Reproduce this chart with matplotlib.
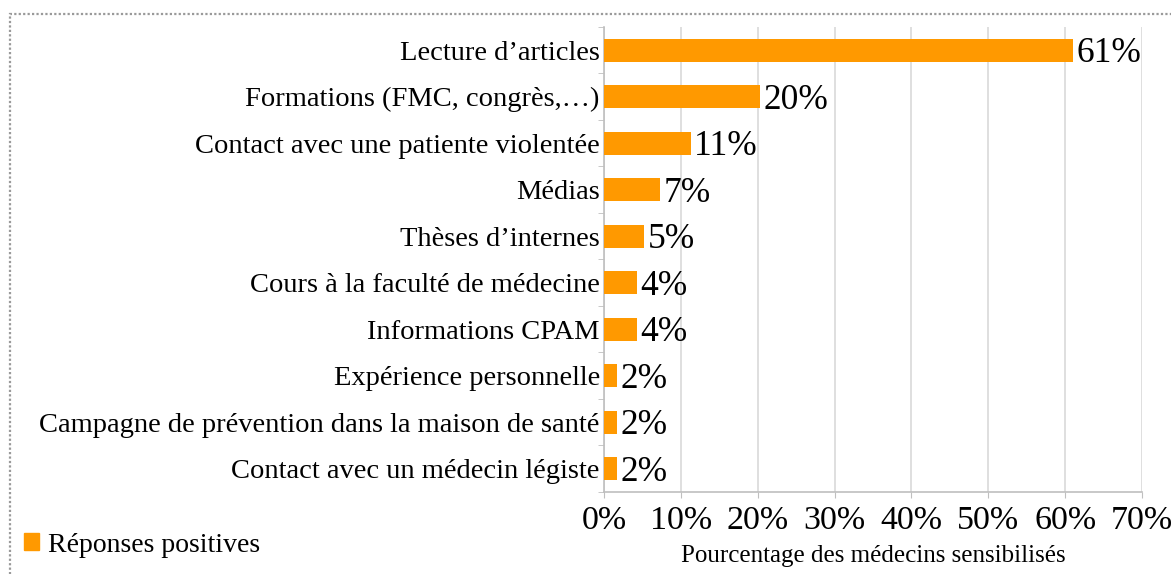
import matplotlib.pyplot as plt
from matplotlib.patches import Rectangle, Patch

# Data (top to bottom)
categories = [
    "Lecture d\u2019articles",
    "Formations (FMC, congr\u00e8s,\u2026)",
    "Contact avec une patiente violent\u00e9e",
    "M\u00e9dias",
    "Th\u00e8ses d\u2019internes",
    "Cours \u00e0 la facult\u00e9 de m\u00e9decine",
    "Informations CPAM",
    "Exp\u00e9rience personnelle",
    "Campagne de pr\u00e9vention dans la maison de sant\u00e9",
    "Contact avec un m\u00e9decin l\u00e9giste",
]
values = [61.0, 20.3, 11.3, 7.3, 5.2, 4.3, 4.3, 1.7, 1.7, 1.7]
xticks = [0, 10, 20, 30, 40, 50, 60, 70]

orange = "#ff9900"
grid_col = "#d9d9d9"
spine_col = "#bfbfbf"

plt.rcParams['font.family'] = ['Liberation Serif', 'DejaVu Serif']

W, H = 1171, 574
fig = plt.figure(figsize=(W / 100, H / 100), dpi=100)

# dotted chart border (right/bottom fall outside the image)
fig.patches.append(Rectangle((10 / W, -0.2), 1.2, 1 - 14 / H + 0.2,
                             transform=fig.transFigure, fill=False,
                             edgecolor="#9a9a9a", linestyle=(0, (1, 1)),
                             linewidth=1.6))

left, right, top, bottom = 604 / W, 1142 / W, 1 - 27 / H, 1 - 492 / H
ax = fig.add_axes([left, bottom, right - left, top - bottom])

y = list(range(len(categories)))
ax.barh(y, values, height=0.5, color=orange, zorder=3)

for yi, v in zip(y, values):
    ax.text(v + 0.45, yi + 0.07, f"{round(v)}%", va="center", ha="left",
            fontsize=25.5, zorder=4)

ax.set_ylim(len(categories) - 0.5, -0.5)
ax.set_xlim(0, 70)
ax.set_yticks(y)
ax.set_yticklabels(categories, fontsize=20.5)
ax.set_yticks([i - 0.5 for i in range(len(categories) + 1)], minor=True)
ax.tick_params(axis="y", which="major", length=0, pad=3)
ax.tick_params(axis="y", which="minor", length=4, color=spine_col)

ax.set_xticks(xticks)
ax.set_xticklabels([f"{t}%" for t in xticks], fontsize=24.5)
ax.tick_params(axis="x", length=4, color=spine_col, pad=6)
ax.set_xlabel("Pourcentage des m\u00e9decins sensibilis\u00e9s", fontsize=18,
              labelpad=6)

ax.grid(axis="x", color=grid_col, linewidth=1.2, zorder=0)
for s in ["top", "right"]:
    ax.spines[s].set_visible(False)
for s in ["left", "bottom"]:
    ax.spines[s].set_color(spine_col)
    ax.spines[s].set_linewidth(1.2)

fig.legend(handles=[Patch(color=orange)], labels=["R\u00e9ponses positives"],
           loc="center left", bbox_to_anchor=(24 / W, 1 - 545 / H),
           frameon=False, fontsize=20, handlelength=0.55, handleheight=0.55,
           handletextpad=0.3, borderpad=0, borderaxespad=0)

fig.savefig("out.png", dpi=100)
